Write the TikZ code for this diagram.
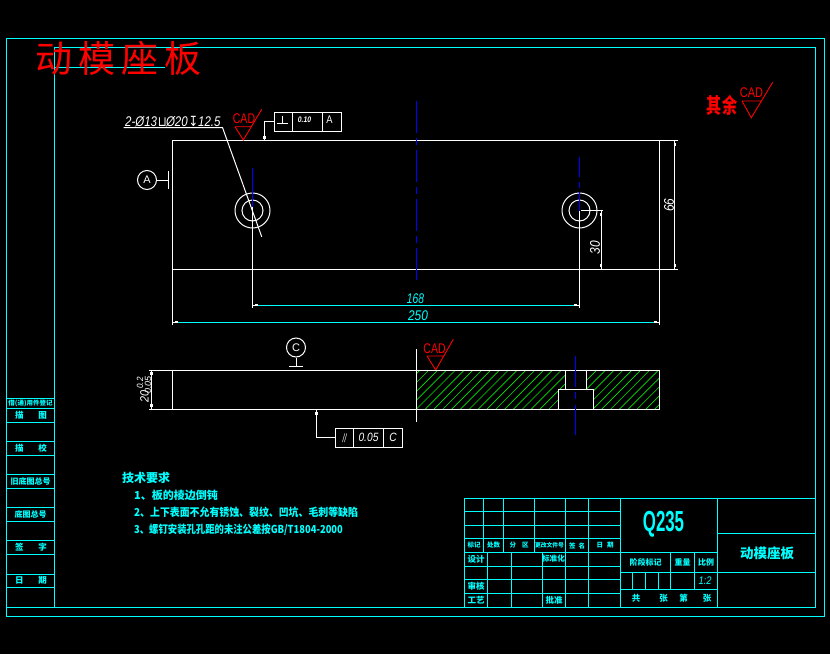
\documentclass[tikz,border=0pt]{standalone}
\usepackage{fontspec}
\setmainfont{Liberation Sans}
\newfontfamily\cjk{Noto Sans CJK SC}
\newfontfamily\dejavu{DejaVu Sans}
\usetikzlibrary{calc}
\definecolor{cadcyan}{RGB}{0,255,255}
\definecolor{cadred}{RGB}{255,0,0}
\definecolor{cadblue}{RGB}{0,0,255}
\definecolor{cadgreen}{RGB}{0,230,0}
\newcommand\nar[2]{\scalebox{#1}[1]{#2}}
\tikzset{
  frameline/.style={draw=cadcyan,line width=1pt},
  part/.style={draw=white,line width=1.1pt},
  thin part/.style={draw=white,line width=1pt},
  centre/.style={draw=cadblue,line width=1pt},
  hatchline/.style={draw=cadgreen,line width=0.65pt},
  redline/.style={draw=cadred,line width=.9pt},
  cell/.style={text=cadcyan,font=\cjk\bfseries\fontsize{8.5}{8.5}\selectfont,inner sep=0pt,anchor=center},
  smallcell/.style={cell,font=\cjk\bfseries\fontsize{6.5}{6.5}\selectfont},
  midcell/.style={cell,font=\cjk\bfseries\fontsize{8}{8}\selectfont},
  whitetxt/.style={text=white,font=\itshape\fontsize{14}{14}\selectfont,inner sep=0pt},
  dimtxt/.style={text=cadcyan,font=\itshape\fontsize{14}{14}\selectfont,inner sep=0pt},
  redtxt/.style={text=cadred,inner sep=0pt},
  cadtxt/.style={text=cadred,inner sep=0pt,font=\fontsize{14}{14}\selectfont},
  notes/.style={text=cadcyan,font=\cjk\bfseries\fontsize{11}{11}\selectfont,inner sep=0pt,anchor=west},
  circ/.style={draw=white,circle,line width=1pt,minimum size=19pt,inner sep=0pt,text=white,font=\fontsize{11}{11}\selectfont},
  dot/.style={fill=white,inner sep=0pt,minimum size=3pt}
}
\begin{document}
\begin{tikzpicture}[x=1pt,y=-1pt]
\useasboundingbox[fill=black] (0,0) rectangle (830,654);
% frames
\draw[frameline] (6.5,38.5) rectangle (824.5,616.5);
\draw[frameline] (54.5,47.5) rectangle (815.5,607.5);
\draw[frameline] (54.5,67.5) -- (165,67.5);
% left column
\foreach \y in {398,408,422,441,455,474,488,507,521,540,554,574,587,607}
  \draw[frameline] (6.5,\y+.5) -- (54.5,\y+.5);
\node[smallcell] (l1) at (30.5,403) {借(通)用件登记};
\node[cell] (l2) at (31,415) {描\hspace{15pt}图};
\node[cell] (l3) at (31,448) {描\hspace{15pt}校};
\node[midcell] (l4) at (30.5,481) {旧底图总号};
\node[midcell] (l5) at (30.5,514) {底图总号};
\node[cell] (l6) at (31,547) {签\hspace{15pt}字};
\node[cell] (l7) at (31,580.5) {日\hspace{15pt}期};
% title
\node[redtxt,font=\cjk\fontsize{37}{37}\selectfont] (title) at (118.5,58) {动\hspace{5.7pt}模\hspace{5.7pt}座\hspace{5.7pt}板};
% main view
\draw[part] (172.5,140.5) rectangle (659.5,269.5);
\draw[thin part] (659.5,140.5) -- (678,140.5);
\draw[thin part] (659.5,269.5) -- (678,269.5);
% holes
\coordinate (h1) at (252.5,210.5);
\coordinate (h2) at (579.5,210.5);
\draw[thin part] (h1) circle (17.5);
\draw[thin part] (h1) circle (10.5);
\draw[thin part] (h2) circle (17.5);
\draw[thin part] (h2) circle (10.5);
% centre lines
\draw[centre] (252.5,168) -- (252.5,207);
\draw[thin part] (252.5,207) -- (252.5,308);
\draw[centre,dash pattern=on 32pt off 5pt on 7pt off 5pt] (416.5,101) -- (416.5,282);
\draw[centre] (579.5,157) -- (579.5,177);
\draw[centre] (579.5,182) -- (579.5,188);
\draw[centre] (579.5,192) -- (579.5,210.5);
\draw[thin part] (579.5,210.5) -- (579.5,307.5);
\draw[thin part] (659.5,269) -- (659.5,324.5);
\draw[thin part] (172.5,269) -- (172.5,325);
% dims
\coordinate (a168) at (252.5,305.5);
\coordinate (b168) at (579.5,305.5);
\coordinate (a250) at (172.5,322.5);
\coordinate (b250) at (659.5,322.5);
\draw[thin part] (a168) -- (258,305.5) (b168) -- (574,305.5);
\draw[thin part] (a250) -- (178,322.5) (b250) -- (654,322.5);
\draw[frameline] (258,305.5) -- (574,305.5);
\draw[frameline] (178,322.5) -- (654,322.5);
\node[dot,minimum width=3pt,minimum height=1.5pt] (d1) at (256.5,304.3) {};
\node[dot,minimum width=3pt,minimum height=1.5pt] (d2) at (575.5,304.3) {};
\node[dot,minimum width=3pt,minimum height=1.5pt] (d3) at (176.5,321.3) {};
\node[dot,minimum width=3pt,minimum height=1.5pt] (d4) at (655.5,321.3) {};
\node[dimtxt] (t168) at (415.5,299) {\nar{.73}{168}};
\node[dimtxt] (t250) at (418,316) {\nar{.85}{250}};
\draw[thin part] (674.5,140.5) -- (674.5,269.5);
\node[dot,minimum width=1.5pt,minimum height=3pt] (d5) at (675.5,144.5) {};
\node[dot,minimum width=1.5pt,minimum height=3pt] (d6) at (675.5,265.5) {};
\node[whitetxt,rotate=90] (t66) at (669,205) {\nar{.85}{66}};
\draw[thin part] (581,210.5) -- (603,210.5);
\draw[thin part] (601.5,210.5) -- (601.5,269.5);
\node[dot,minimum width=1.5pt,minimum height=3pt] (d7) at (600.8,214.5) {};
\node[dot,minimum width=1.5pt,minimum height=3pt] (d8) at (600.8,265.5) {};
\node[whitetxt,rotate=90] (t30) at (595,247.5) {\nar{.85}{30}};
% hole leader
\coordinate (ld0) at (123.5,127.5);
\coordinate (ld1) at (222.5,127.5);
\coordinate (ld2) at (261.7,236.7);
\draw[thin part] (ld0) -- (ld1) -- (ld2);
\node[whitetxt,anchor=south west] (holetxt) at (125,127) {\nar{.82}{2-Ø13\hspace{1pt}{\dejavu\upshape ⊔}\hspace{-1pt}Ø20\hspace{1pt}{\dejavu\upshape ↧}12.5}};
% surface symbols
\draw[redline] (235,126.7) -- (251.7,126.7) (235,126.7) -- (243.3,140) -- (261.7,109.3);
\node[cadtxt] (cad1) at (244,119) {\nar{.75}{CAD}};
\draw[redline] (427,356) -- (444.3,356) (427,356) -- (435.7,370) -- (453.3,339.3);
\node[cadtxt] (cad2) at (434.5,349) {\nar{.75}{CAD}};
\draw[redline] (742,101) -- (761.7,101) (742,101) -- (751.3,117.7) -- (772.7,82.3);
\node[cadtxt] (cad3) at (751.5,93) {\nar{.78}{CAD}};
\node[redtxt,font=\cjk\bfseries\fontsize{21}{21}\selectfont] (qy) at (722,105.5) {\nar{.72}{其余}};
% tolerance frame top
\node[draw=white,line width=1pt,minimum width=67.5pt,minimum height=19pt,inner sep=0pt] (tol1) at (308,121.8) {};
\draw[thin part] (292.5,112.3) -- (292.5,131.3) (322.5,112.3) -- (322.5,131.3);
\coordinate (tol1t) at (264.5,140.5);
\draw[thin part] (tol1.west) -| (tol1t);
\node[dot] (tp) at (264.5,137) {};
\draw[thin part] (277,123.5) -- (288,123.5) (282.5,115.5) -- (282.5,123.5);
\node[whitetxt,font=\itshape\bfseries\fontsize{8}{8}\selectfont] (t010) at (304.5,120) {\nar{.85}{0.10}};
\node[whitetxt,font=\fontsize{11}{11}\selectfont] (tA) at (329.5,119.5) {\nar{.85}{A}};
% datum A
\node[circ] (dA) at (147,180) {A};
\coordinate (dAb) at (168.5,180);
\draw[thin part] (dA.east) -- (dAb);
\draw[thin part] (168.5,171) -- (168.5,189);
% section view
\begin{scope}
\clip (416.5,370.5) rectangle (659.5,409.5);
\foreach \i in {-5,...,28}
  \draw[hatchline] (408+\i*8.83,417.5) -- (464+\i*8.83,361.5);
\end{scope}
\fill[black] (565.5,371) rectangle (586.5,389);
\fill[black] (558.5,389) rectangle (593.5,409);
\draw[part] (565.5,370.5) -- (565.5,389.5) (586.5,370.5) -- (586.5,389.5);
\draw[part] (558.5,409.5) -- (558.5,389.5) -- (593.5,389.5) -- (593.5,409.5);
\draw[part] (172.5,370.5) rectangle (659.5,409.5);
\draw[thin part] (416.5,349) -- (416.5,421.5);
\draw[centre] (575.5,356) -- (575.5,387);
\draw[centre] (575.5,392) -- (575.5,399);
\draw[centre] (575.5,405) -- (575.5,435);
\draw[thin part] (149,370.5) -- (171.5,370.5) (149,409.5) -- (171.5,409.5);
\draw[thin part] (151.5,370.5) -- (151.5,409.5);
\node[dot] (d9) at (151.5,373.5) {};
\node[dot] (d10) at (151.5,405.5) {};
\node[whitetxt,rotate=90,font=\itshape\fontsize{12}{12}\selectfont] (t20) at (144.5,396.5) {\nar{.9}{20}};
\node[whitetxt,rotate=90,font=\itshape\fontsize{9}{9}\selectfont] (t02) at (140,383) {\nar{.9}{0.2}};
\node[whitetxt,rotate=90,font=\itshape\fontsize{9}{9}\selectfont] (t05a) at (148,385) {\nar{1}{0.05}};
% datum C
\node[circ] (dC) at (296,347.5) {C};
\coordinate (dCb) at (296,366.5);
\draw[thin part] (dC.south) -- (dCb);
\draw[thin part] (289,366.5) -- (303,366.5);
% tol frame bottom
\node[draw=white,line width=1pt,minimum width=67pt,minimum height=19pt,inner sep=0pt] (tol2) at (369,437.8) {};
\draw[thin part] (353.5,428.3) -- (353.5,447.3) (383.5,428.3) -- (383.5,447.3);
\coordinate (tol2t) at (316.5,409.5);
\draw[thin part] (tol2.west) -| (tol2t);
\node[dot] (bp) at (316.5,413.5) {};
\node[whitetxt,font=\itshape\fontsize{12}{12}\selectfont] (t11) at (344.5,438) {\nar{.6}{//}};
\node[whitetxt,font=\itshape\fontsize{12}{12}\selectfont] (t05) at (368.5,437) {\nar{.85}{0.05}};
\node[whitetxt,font=\itshape\fontsize{12}{12}\selectfont] (tC) at (393,437.5) {\nar{.85}{C}};
% notes
\node[notes,font=\cjk\bfseries\fontsize{12}{12}\selectfont] (n0) at (122,478) {技术要求};
\node[notes] (n1) at (134,495.5) {1、板的棱边倒钝};
\node[notes] (n2) at (134,512.5) {\nar{.9}{2、上下表面不允有锈蚀、裂纹、凹坑、毛刺等缺陷}};
\node[notes] (n3) at (134,529.5) {\nar{.85}{3、螺钉安装孔孔距的未注公差按GB/T1804-2000}};
% title block
\draw[frameline] (464.5,498.5) rectangle (815.5,607.5);
\foreach \y in {511,525,538,552,566,579,593}
  \draw[frameline] (464.5,\y+.5) -- (620.5,\y+.5);
\foreach \x in {483,503,534,565,588}
  \draw[frameline] (\x+.5,498.5) -- (\x+.5,552.5);
\foreach \x in {487,511,542,565,588}
  \draw[frameline] (\x+.5,552.5) -- (\x+.5,607.5);
\draw[frameline] (620.5,498.5) -- (620.5,607.5);
\draw[frameline] (717.5,498.5) -- (717.5,607.5);
\draw[frameline] (717.5,533.5) -- (815.5,533.5);
\draw[frameline] (717.5,572.5) -- (815.5,572.5);
\draw[frameline] (620.5,552.5) -- (717.5,552.5);
\draw[frameline] (620.5,572.5) -- (717.5,572.5);
\draw[frameline] (620.5,589.5) -- (717.5,589.5);
\draw[frameline] (670.5,552.5) -- (670.5,589.5);
\draw[frameline] (694.5,552.5) -- (694.5,589.5);
\draw[frameline] (632.5,572.5) -- (632.5,589.5) (645.5,572.5) -- (645.5,589.5) (658.5,572.5) -- (658.5,589.5);
\node[smallcell] (b1) at (474,545.5) {标记};
\node[smallcell] (b2) at (493.5,545.5) {处数};
\node[smallcell] (b3) at (519,545.5) {分\hspace{6pt}区};
\node[cell,font=\cjk\bfseries\fontsize{5.8}{5.8}\selectfont] (b4) at (549.5,545.5) {更改文件号};
\node[smallcell] (b5) at (577,545.5) {签\hspace{3pt}名};
\node[smallcell] (b6) at (605,545.5) {日\hspace{4pt}期};
\node[cell] (b7) at (476,559) {设计};
\node[cell,font=\cjk\bfseries\fontsize{7.6}{7.6}\selectfont] (b8) at (553.5,559) {标准化};
\node[cell] (b9) at (476,586) {审核};
\node[cell] (b10) at (476,600) {工艺};
\node[cell] (b11) at (554,600) {批准};
\node[cell,font=\bfseries\fontsize{29}{29}\selectfont] (mat) at (663.5,524.5) {\nar{.58}{Q235}};
\node[cell,font=\cjk\bfseries\fontsize{13.5}{13.5}\selectfont] (name) at (767,553) {动模座板};
\node[midcell] (c1) at (645.5,562) {阶段标记};
\node[midcell] (c2) at (682.5,562) {重量};
\node[midcell] (c3) at (706,562) {比例};
\node[cell,font=\itshape\fontsize{11}{11}\selectfont] (c4) at (705,581) {\nar{.85}{1:2}};
\node[cell] (c5) at (636,598) {共};
\node[cell] (c6) at (663.5,598) {张};
\node[cell] (c7) at (683.5,598) {第};
\node[cell] (c8) at (707,598) {张};
\end{tikzpicture}
\end{document}
